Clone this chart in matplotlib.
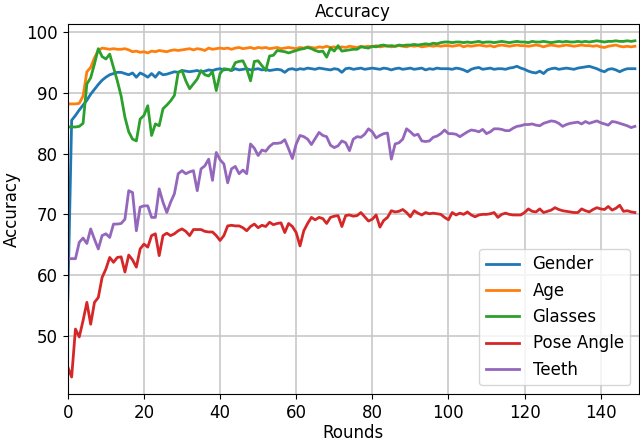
import numpy as np
import matplotlib
matplotlib.use('Agg')
import matplotlib.pyplot as plt

# accuracy per round
gender = [56.0, 85.5, 86.3, 87.2, 88.0, 88.8, 89.8, 90.6, 91.4, 92.1, 92.6, 93.0, 93.2, 93.4, 93.4, 93.2, 93.0, 93.3, 92.6, 93.3,
          93.0, 92.6, 93.2, 92.6, 93.4, 93.0, 93.1, 93.3, 93.5, 93.4, 93.7, 93.6, 93.5, 93.6, 93.7, 93.5, 93.6, 93.8, 93.7, 93.9,
          94.0, 93.8, 93.9, 93.7, 94.0, 93.8, 93.9, 94.0, 93.8, 93.9, 94.0, 93.8, 93.9, 93.7, 93.8, 93.9, 93.8, 93.4, 93.9, 94.0,
          93.8, 94.0, 93.9, 94.1, 94.0, 93.9, 94.1, 94.0, 93.9, 93.8, 94.0, 93.9, 93.4, 94.0, 94.1, 93.9, 94.0, 94.1, 93.9, 94.0,
          94.1, 94.0, 93.9, 94.1, 94.0, 93.8, 94.0, 94.1, 93.9, 94.0, 94.1, 93.9, 94.0, 94.1, 93.8, 94.0, 93.9, 94.1, 94.0, 94.0,
          94.0, 93.9, 94.1, 94.0, 93.8, 93.5, 93.9, 94.1, 94.2, 93.9, 94.0, 94.1, 93.9, 94.0, 94.0, 93.9, 94.1, 94.2, 94.4, 94.1,
          93.9, 93.6, 93.4, 93.3, 93.6, 93.2, 93.8, 94.0, 94.1, 93.9, 94.0, 94.1, 94.0, 93.9, 94.1, 94.2, 94.3, 94.4, 94.2, 94.0,
          93.7, 93.5, 93.9, 94.0, 93.8, 93.5, 93.8, 94.0, 94.0, 94.0]

age = [88.2, 88.2, 88.2, 88.3, 89.5, 93.5, 94.2, 95.8, 97.0, 97.4, 97.3, 97.2, 97.3, 97.2, 97.2, 97.3, 97.1, 96.8, 96.9, 96.7,
       96.8, 96.6, 96.9, 96.8, 97.0, 96.9, 96.8, 97.0, 97.1, 97.0, 97.1, 97.2, 97.3, 97.1, 97.3, 97.2, 97.0, 97.4, 97.2, 97.3,
       97.4, 97.3, 97.4, 97.2, 97.4, 97.5, 97.3, 97.4, 97.5, 97.3, 97.5, 97.4, 97.5, 97.3, 97.4, 97.5, 97.3, 97.4, 97.5, 97.4,
       97.3, 97.5, 97.4, 97.6, 97.5, 97.4, 97.6, 97.5, 97.7, 97.5, 97.6, 97.4, 97.6, 97.5, 97.7, 97.6, 97.5, 97.7, 97.6, 97.7,
       97.6, 97.8, 97.6, 97.7, 97.8, 97.6, 97.7, 97.8, 97.7, 97.6, 97.8, 97.7, 97.8, 97.6, 97.7, 97.8, 97.7, 97.8, 97.7, 97.8,
       97.8, 97.7, 97.8, 97.9, 97.6, 97.8, 97.7, 97.8, 97.9, 97.8, 97.7, 97.8, 97.6, 97.8, 97.9, 97.8, 97.7, 97.8, 97.9, 97.8,
       97.8, 97.7, 97.8, 97.9, 97.8, 97.6, 97.8, 97.9, 97.8, 97.7, 97.8, 97.9, 97.8, 97.7, 97.8, 97.9, 97.8, 97.8, 97.7, 97.8,
       97.6, 97.5, 97.7, 97.8, 97.9, 97.7, 97.6, 97.7, 97.6, 97.7]

glasses = [84.4, 84.4, 84.4, 84.5, 85.0, 91.5, 92.5, 94.8, 97.3, 96.0, 95.6, 96.4, 94.2, 92.0, 89.5, 86.0, 83.6, 82.4, 82.1, 85.7,
           86.3, 87.9, 83.0, 84.9, 84.6, 87.4, 88.0, 88.7, 89.6, 93.4, 93.7, 92.0, 90.7, 91.5, 92.3, 93.7, 93.0, 92.8, 93.5, 90.4,
           93.2, 94.0, 93.9, 93.7, 95.0, 95.2, 95.3, 94.0, 92.0, 95.2, 95.3, 94.5, 93.7, 96.1, 96.2, 97.0, 96.9, 96.8, 96.6, 96.8,
           97.0, 97.2, 97.3, 97.5, 97.3, 97.0, 96.8, 96.9, 95.9, 97.4, 96.9, 97.8, 96.9, 97.0, 97.1, 97.2, 97.2, 97.6, 97.5, 97.4,
           97.7, 97.6, 97.8, 97.9, 97.7, 97.8, 97.7, 97.9, 97.8, 97.9, 97.9, 98.0, 97.9, 98.0, 98.1, 98.0, 98.2, 98.1, 98.3, 98.4,
           98.4, 98.3, 98.4, 98.4, 98.3, 98.4, 98.3, 98.4, 98.5, 98.3, 98.4, 98.4, 98.3, 98.4, 98.5, 98.4, 98.3, 98.4, 98.5, 98.4,
           98.4, 98.3, 98.5, 98.4, 98.4, 98.5, 98.4, 98.3, 98.4, 98.5, 98.4, 98.5, 98.4, 98.4, 98.5, 98.4, 98.5, 98.4, 98.5, 98.6,
           98.5, 98.4, 98.5, 98.5, 98.6, 98.5, 98.5, 98.6, 98.5, 98.6]

pose = [44.8, 43.2, 51.1, 49.8, 52.5, 55.5, 51.9, 55.5, 56.3, 59.6, 61.0, 62.9, 62.1, 62.9, 63.0, 60.5, 63.3, 62.5, 61.3, 64.3,
        65.1, 64.6, 66.5, 66.8, 63.2, 66.5, 66.9, 66.5, 66.8, 67.3, 67.6, 67.2, 66.5, 67.5, 67.5, 67.5, 67.2, 67.1, 67.1, 66.5,
        65.7, 66.5, 68.1, 68.2, 68.1, 68.1, 67.8, 67.3, 68.0, 68.4, 67.8, 68.2, 68.0, 68.7, 68.3, 68.5, 68.6, 67.0, 68.5, 68.0,
        67.0, 64.8, 67.3, 68.5, 69.5, 69.1, 69.5, 69.3, 68.5, 69.5, 69.7, 69.8, 68.0, 69.8, 69.9, 69.7, 69.8, 70.3, 69.6, 68.9,
        69.2, 69.9, 67.9, 69.0, 69.5, 70.6, 70.4, 70.5, 70.8, 70.3, 69.6, 70.6, 70.2, 69.9, 70.3, 70.1, 70.2, 70.1, 70.0, 69.5,
        69.1, 70.3, 69.9, 70.2, 70.0, 70.4, 69.9, 69.6, 69.9, 70.0, 70.0, 70.1, 70.3, 69.5, 70.0, 70.2, 70.0, 69.9, 69.9, 69.9,
        70.3, 70.9, 70.5, 70.4, 70.9, 70.3, 70.5, 70.7, 71.1, 70.8, 70.6, 70.5, 70.4, 70.3, 70.3, 70.9, 70.6, 70.4, 70.8, 71.1,
        70.9, 70.8, 71.3, 70.7, 71.0, 71.5, 70.5, 70.6, 70.4, 70.3]

teeth = [62.7, 62.7, 62.7, 65.4, 66.1, 65.2, 67.6, 65.9, 64.3, 66.5, 66.8, 66.2, 68.4, 68.4, 68.5, 69.2, 73.9, 73.6, 67.3, 71.2,
         71.4, 71.4, 69.5, 69.5, 74.2, 72.0, 70.3, 72.0, 73.4, 76.7, 77.2, 76.7, 77.0, 77.2, 73.9, 77.5, 78.0, 79.1, 75.6, 80.2,
         79.0, 78.3, 75.2, 77.5, 77.9, 76.7, 77.3, 76.7, 81.6, 80.9, 79.7, 80.6, 80.4, 81.2, 81.7, 81.7, 81.8, 82.3, 80.8, 79.2,
         81.6, 83.0, 82.8, 82.4, 81.5, 82.5, 83.5, 83.0, 82.8, 81.4, 81.0, 81.3, 82.1, 81.8, 80.5, 82.4, 82.8, 82.7, 83.2, 84.1,
         83.6, 82.6, 83.0, 83.3, 83.4, 79.1, 81.6, 81.8, 82.4, 84.1, 83.6, 83.0, 83.2, 82.1, 82.0, 82.1, 82.7, 82.9, 83.3, 83.9,
         83.3, 83.3, 83.2, 82.8, 83.2, 83.6, 83.9, 83.8, 83.6, 84.0, 83.3, 83.6, 84.1, 84.1, 84.0, 83.8, 83.8, 84.2, 84.5, 84.6,
         84.8, 84.8, 84.9, 84.7, 84.6, 85.0, 85.2, 85.4, 85.3, 85.0, 84.5, 84.8, 85.0, 85.1, 85.2, 84.9, 85.3, 85.0, 85.2, 85.4,
         85.1, 84.9, 84.7, 85.3, 85.2, 85.0, 84.8, 84.6, 84.3, 84.5]

labels = ['Gender', 'Age', 'Glasses', 'Pose Angle', 'Teeth']
series = [gender, age, glasses, pose, teeth]

plt.rcParams['font.size'] = 12
fig = plt.figure(figsize=(6.4, 4.44), dpi=100)
ax = fig.add_axes([0.106, 0.113, 0.892, 0.833])

for name, y in zip(labels, series):
    ax.plot(np.arange(len(y)), y, label=name, linewidth=2)

ax.set_xlim(0, 150)
ax.set_xticks(range(0, 141, 20))
ax.set_yticks(range(50, 101, 10))
ax.grid(True, color='#c8c8c8', linewidth=1.2)
ax.set_axisbelow(True)
ax.set_title('Accuracy', fontsize=12, pad=5)
ax.set_xlabel('Rounds', labelpad=2)
ax.set_ylabel('Accuracy')
ax.legend(loc='lower right', fontsize=12)

plt.savefig('out.png', dpi=100)
